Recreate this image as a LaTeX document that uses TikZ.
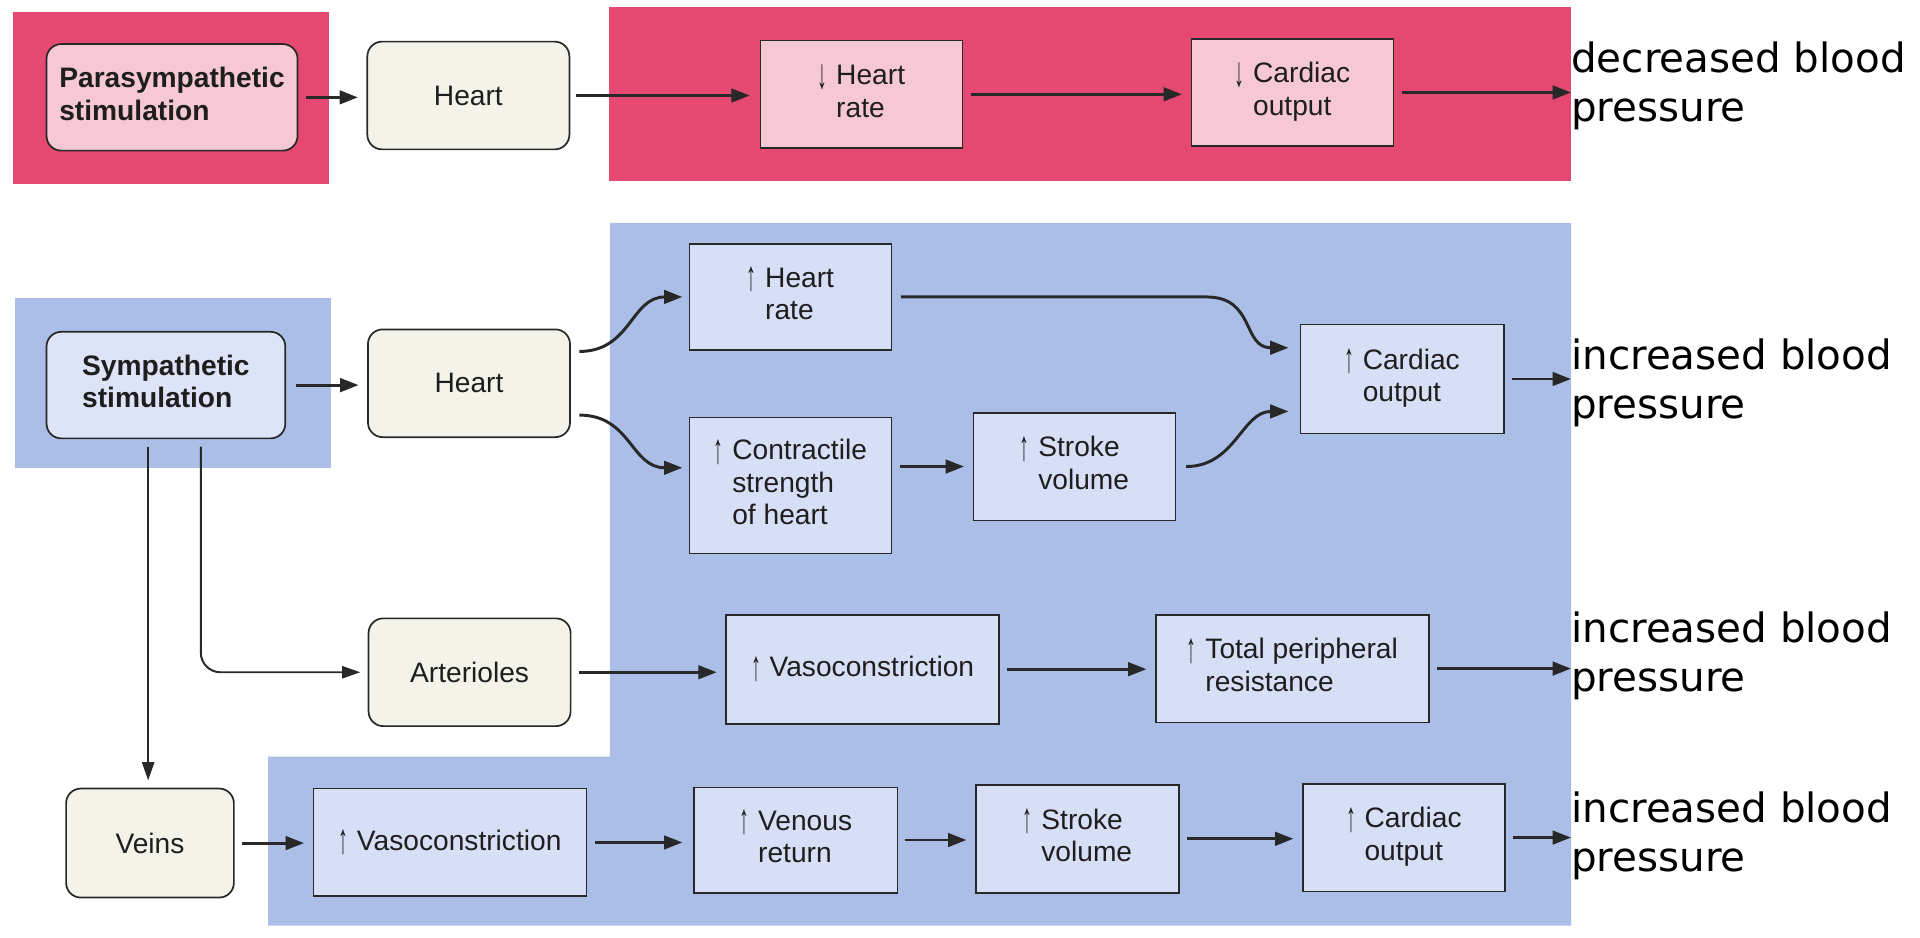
\documentclass[tikz,border=0pt]{standalone}
\usepackage{fontspec}
\usepackage{graphicx}
\setmainfont{Liberation Sans}
\newfontfamily\bigfont{DejaVu Sans}
\newfontfamily\arrfont{Liberation Sans}
\usetikzlibrary{arrows.meta,calc}
\definecolor{pinkbg}{RGB}{229,72,112}
\definecolor{pinkbox}{RGB}{245,200,211}
\definecolor{bluebg}{RGB}{170,190,232}
\definecolor{bluebox}{RGB}{214,223,245}
\definecolor{sympbox}{RGB}{221,228,247}
\definecolor{creambox}{RGB}{244,243,233}
\definecolor{linec}{RGB}{40,40,40}
\definecolor{textc}{RGB}{30,30,30}
\newcommand\bxfont{\fontsize{23}{26.5}\selectfont}
\newcommand\bgfont{\bigfont\fontsize{33}{40}\selectfont}
\newcommand\uparr{\raisebox{-3pt}{\scalebox{0.7}[1.5]{\mdseries ↑}}}
\newcommand\dnarr{\raisebox{-3pt}{\scalebox{0.7}[1.5]{\mdseries ↓}}}
\newcommand\uptwo[3]{\begin{tabular}{@{}l@{\hspace{7pt}}l@{}}#1 & #2\\ & #3\end{tabular}}
\begin{document}
\begin{tikzpicture}[x=1pt,y=-1pt,
  roundbox/.style={draw=linec,line width=1.4pt,rounded corners=12pt,fill=creambox,minimum width=165pt,minimum height=88pt,inner sep=0pt,font=\bxfont,text=textc},
  sqbox/.style={draw=linec,line width=1.4pt,fill=bluebox,minimum width=165pt,minimum height=88pt,inner sep=0pt,font=\bxfont,text=textc},
  widebox/.style={sqbox,minimum width=223pt},
  flowarr/.style={draw=linec,line width=2.4pt,-{Triangle[length=15pt,width=11pt]},shorten <=6pt,shorten >=7pt},
  thinarr/.style={draw=linec,line width=1.6pt,-{Triangle[length=15pt,width=10pt]}},
  bptext/.style={anchor=west,inner sep=0pt,align=left,font=\bgfont,text=black},
]
\useasboundingbox (0,0) rectangle (1568,766);
% backgrounds
\fill[pinkbg] (11,10) rectangle (269,150);
\fill[pinkbg] (497,6) rectangle (1283,148);
\fill[bluebg] (12,243) rectangle (270,382);
\fill[bluebg] (498,182) -- (1283,182) -- (1283,756) -- (219,756) -- (219,618) -- (498,618) -- cycle;

% parasympathetic row
\node[roundbox,fill=pinkbox,minimum width=205pt,minimum height=87pt,font=\bxfont\bfseries] (para) at (140.5,79.5) {\begin{tabular}{@{}l@{}}Parasympathetic\\stimulation\end{tabular}};
\node[roundbox] (heart1) at (382.5,78) {Heart};
\node[sqbox,fill=pinkbox] (hr1) at (703.5,77) {\uptwo{\dnarr}{Heart}{rate}};
\node[sqbox,fill=pinkbox,minimum height=87pt] (co1) at (1055.5,75.5) {\uptwo{\dnarr}{Cardiac}{output}};
\node[bptext] (t1) at (1283,70) {decreased blood\\pressure};

\draw[flowarr] (para.east) -- (para.east -| heart1.west);
\draw[flowarr,shorten <=5pt,shorten >=8pt] (heart1.east) -- (heart1.east -| hr1.west);
\draw[flowarr] (hr1.east) -- (hr1.east -| co1.west);
\draw[flowarr,shorten >=0pt] (co1.east) -- (co1.east -| t1.west);

% sympathetic
\node[roundbox,fill=sympbox,minimum width=195pt,minimum height=87pt,font=\bxfont\bfseries] (symp) at (135.5,314.5) {\begin{tabular}{@{}l@{}}Sympathetic\\stimulation\end{tabular}};
\node[roundbox] (heart2) at (383,313) {Heart};
\node[sqbox,minimum height=87pt] (hr2) at (645.5,242.5) {\uptwo{\uparr}{Heart}{rate}};
\node[sqbox,minimum height=111pt] (contr) at (645.5,396.5) {\begin{tabular}{@{}l@{\hspace{7pt}}l@{}}\uparr & Contractile\\ & strength\\ & of heart\end{tabular}};
\node[sqbox] (sv1) at (877.5,381) {\uptwo{\uparr}{Stroke}{volume}};
\node[sqbox,minimum width=166pt,minimum height=89pt] (co2) at (1145,309.5) {\uptwo{\uparr}{Cardiac}{output}};
\node[bptext] (t2) at (1283,313) {increased blood\\pressure};

\draw[flowarr,shorten <=8pt,shorten >=7pt] (symp.east) -- (symp.east -| heart2.west);
\draw[flowarr,shorten <=0pt,shorten >=0pt] ($(heart2.east)+(7,-26)$) .. controls +(42,0) and +(-42,0) .. ($(hr2.west)+(-5,0)$);
\draw[flowarr,shorten <=0pt,shorten >=0pt] ($(heart2.east)+(7,26)$) .. controls +(42,0) and +(-42,0) .. ($(contr.west)+(-5,-14.5)$);
\draw[flowarr] (sv1.west -| contr.east) -- (sv1.west);
\draw[flowarr,shorten <=0pt,shorten >=0pt] ($(hr2.east)+(7,0)$) -- ($(co2.west)+(-76,-67)$) .. controls +(40,0) and +(-38,0) .. ($(co2.west)+(-9,-25.5)$);
\draw[flowarr,shorten <=0pt,shorten >=0pt] ($(sv1.east)+(8,0)$) .. controls +(40,0) and +(-38,0) .. ($(co2.west)+(-9,26.5)$);
\draw[flowarr,shorten >=0pt] (co2.east) -- (co2.east -| t2.west);

% arterioles row
\node[roundbox] (arter) at (383.5,549) {Arterioles};
\node[widebox,minimum height=89pt] (vaso1) at (704.5,546.5) {\uparr\hspace{7pt}Vasoconstriction};
\node[widebox] (tpr) at (1055.5,546) {\uptwo{\uparr}{Total peripheral}{resistance}};
\node[bptext] (t3) at (1283,536) {increased blood\\pressure};

\draw[thinarr,rounded corners=16pt] ($(symp.south)+(28.5,6)$) |- ($(arter.west)+(-6,0)$);
\draw[flowarr] (arter.east) -- (arter.east -| vaso1.west);
\draw[flowarr] (vaso1.east) -- (vaso1.east -| tpr.west);
\draw[flowarr,shorten >=0pt] (tpr.east) -- (tpr.east -| t3.west);

% veins row
\node[roundbox,minimum width=137pt,minimum height=89pt] (veins) at (122.5,688.5) {Veins};
\node[widebox] (vaso2) at (367.5,688) {\uparr\hspace{7pt}Vasoconstriction};
\node[sqbox,minimum width=166pt,minimum height=86pt] (venous) at (650,686) {\uptwo{\uparr}{Venous}{return}};
\node[sqbox,minimum width=166pt] (sv2) at (880,685) {\uptwo{\uparr}{Stroke}{volume}};
\node[sqbox] (co3) at (1146.5,684) {\uptwo{\uparr}{Cardiac}{output}};
\node[bptext] (t4) at (1283,683) {increased blood\\pressure};

\draw[thinarr] ($(symp.south)+(-14.5,6)$) -- ($(veins.north)+(-1.5,-6)$);
\draw[flowarr] (veins.east) -- (veins.east -| vaso2.west);
\draw[flowarr,shorten >=9pt] (vaso2.east) -- (vaso2.east -| venous.west);
\draw[flowarr,shorten <=5pt] (venous.east) -- (venous.east -| sv2.west);
\draw[flowarr,shorten <=5.5pt] (sv2.east) -- (sv2.east -| co3.west);
\draw[flowarr,shorten >=0pt] (co3.east) -- (co3.east -| t4.west);
\end{tikzpicture}
\end{document}
